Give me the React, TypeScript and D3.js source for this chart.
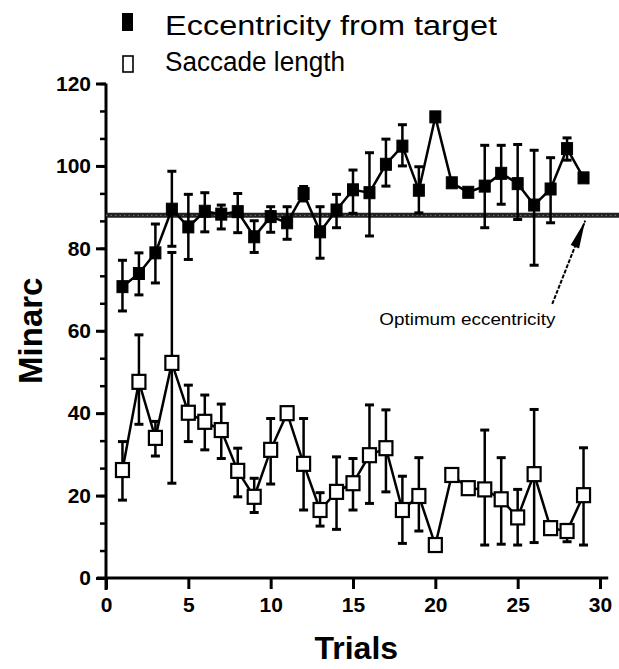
import React, { useEffect, useRef } from 'react';
import * as d3 from 'd3';

// trial numbers (x)
const trials = [1, 2, 3, 4, 5, 6, 7, 8, 9, 10, 11, 12, 13, 14, 15, 16, 17, 18, 19, 20, 21, 22, 23, 24, 25, 26, 27, 28, 29];

// eccentricity from target (filled squares), minarc
const eccentricity = [70.7, 73.9, 78.9, 89.5, 85.2, 89, 88.3, 88.9, 82.8, 87.7, 86.2, 93.3, 84, 89.3, 94.2, 93.5, 100.4, 104.8, 94.1, 111.9, 95.9, 93.6, 95.1, 98.2, 95.7, 90.5, 94.4, 104.2, 97.1];
const eccHigh = [77.1, 78.9, 85.9, 98.7, 93.1, 93.5, 90.5, 93.3, 86.7, 90.1, 90.1, 95, 90.1, 93.1, 99, 103.2, 106.5, 110, 99.8, 111.9, 95.9, 93.6, 105, 105, 105.2, 103.8, 102, 106.8, 97.1];
const eccLow = [64.8, 68.7, 71.6, 80.5, 77.3, 84, 84.7, 83.8, 79, 83.9, 82.2, 91.5, 77.6, 85, 88.5, 83, 95.1, 100, 88.6, 111.9, 95.9, 93.6, 85, 90.7, 87, 75.9, 86.2, 101.4, 97.1];

// saccade length (open squares), minarc
const saccade = [26.2, 47.6, 34, 52.2, 40.1, 37.9, 35.9, 26, 19.7, 31.1, 40, 27.7, 16.5, 20.9, 23, 29.8, 31.5, 16.5, 19.9, 8, 25, 21.8, 21.5, 19.1, 14.7, 25.2, 12.1, 11.4, 20.1];
const sacHigh = [33.1, 59, 38, 79, 46.8, 44.4, 42.2, 31.5, 24.2, 38.7, 40, 38.7, 20.7, 29.4, 29, 42, 40.8, 24.7, 29.2, 8, 25, 21.8, 35.9, 29.2, 21.5, 40.9, 12.1, 13, 31.6];
const sacLow = [18.9, 37.3, 29.6, 23, 33.1, 31.1, 29, 19.7, 15.9, 22.8, 40, 16.5, 12.6, 11.8, 16.5, 18.1, 20.9, 8.4, 11.4, 8, 25, 21.8, 8, 8.2, 8, 8.6, 12.1, 8.8, 8];

const optimum = 88;
const yTicks = [0, 20, 40, 60, 80, 100, 120];
const xTicks = [0, 5, 10, 15, 20, 25, 30];

const font = '"Liberation Sans", Arial, Helvetica, sans-serif';

export default function App() {
  const ref = useRef<SVGSVGElement>(null);
  const width = 619;
  const height = 669;

  useEffect(() => {
    document.body.style.margin = '0';
    const svg = d3.select(ref.current);
    svg.selectAll('*').remove();

    const x = d3.scaleLinear().domain([0, 30]).range([106, 600]);
    const y = d3.scaleLinear().domain([0, 120]).range([578, 83.5]);

    // ---------- axes ----------
    const yMinor = d3.range(0, 120.01, 20 / 3);
    svg.append('g')
      .attr('transform', `translate(${x(0)},0)`)
      .call(d3.axisLeft(y).tickValues(yMinor).tickSize(6).tickSizeOuter(0).tickFormat(() => ''))
      .call(g => g.select('.domain').remove())
      .selectAll('line').attr('stroke', '#000').attr('stroke-width', 2.5);

    const yAxis = svg.append('g')
      .attr('transform', `translate(${x(0)},0)`)
      .call(d3.axisLeft(y).tickValues(yTicks).tickSize(10).tickSizeOuter(0).tickPadding(5));
    yAxis.select('.domain').attr('stroke', '#000').attr('stroke-width', 3)
      .attr('d', `M0,${y(120)}V${y(0) + 12}`);
    yAxis.selectAll('line').attr('stroke', '#000').attr('stroke-width', 3);
    yAxis.selectAll('text').attr('font-family', font).attr('font-size', 21).attr('font-weight', 'bold').attr('fill', '#000');

    const xAxis = svg.append('g')
      .attr('transform', `translate(0,${y(0)})`)
      .call(d3.axisBottom(x).tickValues(xTicks).tickSize(11).tickSizeOuter(0).tickPadding(8));
    xAxis.select('.domain').attr('stroke', '#000').attr('stroke-width', 3)
      .attr('d', `M${x(0) - 9},0H${x(30.5)}`);
    xAxis.selectAll('line').attr('stroke', '#000').attr('stroke-width', 3);
    xAxis.selectAll('text').attr('font-family', font).attr('font-size', 21).attr('font-weight', 'bold').attr('fill', '#000');

    // axis titles
    svg.append('text')
      .attr('transform', `translate(42,${y(60)}) rotate(-90)`)
      .attr('text-anchor', 'middle')
      .attr('font-family', font).attr('font-size', 33).attr('font-weight', 'bold')
      .text('Minarc');
    svg.append('text')
      .attr('x', x(15.2)).attr('y', 659)
      .attr('text-anchor', 'middle')
      .attr('font-family', font).attr('font-size', 32).attr('font-weight', 'bold')
      .text('Trials');

    // ---------- optimum eccentricity line ----------
    svg.append('line')
      .attr('x1', x(0)).attr('x2', width)
      .attr('y1', y(optimum)).attr('y2', y(optimum))
      .attr('stroke', '#222').attr('stroke-width', 5);
    svg.append('line')
      .attr('x1', x(0)).attr('x2', width)
      .attr('y1', y(optimum)).attr('y2', y(optimum))
      .attr('stroke', '#777').attr('stroke-width', 1).attr('stroke-dasharray', '1.5,3');

    // annotation
    svg.append('text')
      .attr('x', x(16.6)).attr('y', y(61.5))
      .attr('font-family', font).attr('font-size', 17)
      .attr('textLength', 176).attr('lengthAdjust', 'spacingAndGlyphs')
      .text('Optimum eccentricity');
    const ax0 = x(27.1), ay0 = y(66.5), ax1 = x(29.1), ay1 = y(86.7);
    const ang = Math.atan2(ay1 - ay0, ax1 - ax0);
    svg.append('line')
      .attr('x1', ax0).attr('y1', ay0).attr('x2', ax1).attr('y2', ay1)
      .attr('stroke', '#000').attr('stroke-width', 2).attr('stroke-dasharray', '4,1.5');
    const hl = 28, hw = 4.5;
    const bx = ax1 - hl * Math.cos(ang), by = ay1 - hl * Math.sin(ang);
    svg.append('path')
      .attr('d', `M${ax1},${ay1}L${bx + hw * Math.sin(ang)},${by - hw * Math.cos(ang)}L${bx - hw * Math.sin(ang)},${by + hw * Math.cos(ang)}Z`)
      .attr('fill', '#000');

    // ---------- series ----------
    const drawSeries = (vals: number[], hi: number[], lo: number[], filled: boolean) => {
      const g = svg.append('g');
      trials.forEach((t, i) => {
        if (hi[i] === lo[i]) return;
        g.append('line')
          .attr('x1', x(t)).attr('x2', x(t))
          .attr('y1', y(hi[i])).attr('y2', y(lo[i]))
          .attr('stroke', '#000').attr('stroke-width', 2.5);
        [hi[i], lo[i]].forEach(v => {
          if (v === vals[i]) return;
          g.append('line')
            .attr('x1', x(t) - 4.5).attr('x2', x(t) + 4.5)
            .attr('y1', y(v)).attr('y2', y(v))
            .attr('stroke', '#000').attr('stroke-width', 3);
        });
      });
      g.append('path')
        .datum(vals)
        .attr('d', d3.line<number>().x((_, i) => x(trials[i])).y(d => y(d)))
        .attr('fill', 'none').attr('stroke', '#000').attr('stroke-width', 2.5);
      const s = filled ? 11 : 13;
      g.selectAll('rect')
        .data(vals)
        .join('rect')
        .attr('x', (_, i) => x(trials[i]) - s / 2)
        .attr('y', d => y(d) - (s + 1) / 2)
        .attr('width', s).attr('height', s + 1)
        .attr('fill', filled ? '#000' : '#fff')
        .attr('stroke', '#000').attr('stroke-width', filled ? 1 : 2.2);
    };
    drawSeries(eccentricity, eccHigh, eccLow, true);
    drawSeries(saccade, sacHigh, sacLow, false);

    // ---------- legend ----------
    const legend = svg.append('g').attr('font-family', font).attr('font-size', 27);
    legend.append('rect').attr('x', 122).attr('y', 13).attr('width', 11).attr('height', 18).attr('fill', '#000');
    legend.append('text').attr('x', 165).attr('y', 35).attr('textLength', 332).attr('lengthAdjust', 'spacingAndGlyphs').text('Eccentricity from target');
    legend.append('rect').attr('x', 123).attr('y', 56).attr('width', 10).attr('height', 16).attr('fill', '#fff').attr('stroke', '#000').attr('stroke-width', 1.6);
    legend.append('text').attr('x', 165).attr('y', 71).attr('textLength', 180).attr('lengthAdjust', 'spacingAndGlyphs').text('Saccade length');
  }, []);

  return (
    <svg ref={ref} width={width} height={height} style={{ display: 'block', background: '#fff' }} />
  );
}
